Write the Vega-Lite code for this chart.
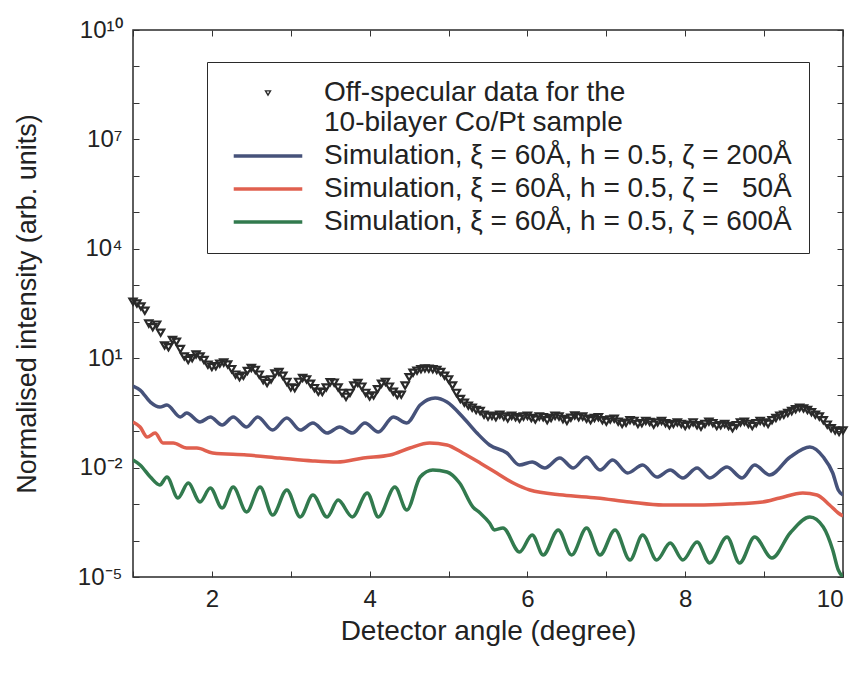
{
  "$schema": "https://vega.github.io/schema/vega-lite/v6.json",
  "width": 710,
  "height": 547,
  "autosize": {"type": "none"},
  "padding": {"left": 133, "top": 30, "right": 15, "bottom": 96},
  "background": "white",
  "config": {
    "view": {"stroke": "#2a2a2a", "strokeWidth": 1.5},
    "font": "Liberation Sans",
    "axis": {
      "domain": false, "grid": false, "tickColor": "#333", "tickSize": -6, "tickWidth": 1,
      "labelFont": "Liberation Sans", "labelFontSize": 24, "labelColor": "#222",
      "titleFont": "Liberation Sans", "titleFontWeight": "normal", "titleColor": "#222"
    },
    "legend": {
      "orient": "none", "legendX": 74, "legendY": 32,
      "strokeColor": "#2a2a2a", "fillColor": "white", "padding": 17,
      "labelFont": "Liberation Sans", "labelFontSize": 28, "labelColor": "#222", "labelLimit": 700,
      "labelOffset": 42, "symbolSize": 40, "symbolOffset": 30, "symbolStrokeWidth": 3.5, "rowPadding": 5,
      "symbolType": "stroke"
    }
  },
  "datasets": {
    "obs": [
      {"s":"data","x":1.00,"y":355},{"s":"data","x":1.05,"y":316},{"s":"data","x":1.10,"y":263},{"s":"data","x":1.15,"y":200},
      {"s":"data","x":1.20,"y":89.1},{"s":"data","x":1.25,"y":70.8},{"s":"data","x":1.30,"y":83.2},{"s":"data","x":1.35,"y":50.1},
      {"s":"data","x":1.40,"y":22.4},{"s":"data","x":1.45,"y":20.0},{"s":"data","x":1.50,"y":31.6},{"s":"data","x":1.55,"y":28.2},
      {"s":"data","x":1.60,"y":17.8},{"s":"data","x":1.65,"y":11.2},{"s":"data","x":1.70,"y":8.91},{"s":"data","x":1.75,"y":10.0},
      {"s":"data","x":1.80,"y":12.6},{"s":"data","x":1.85,"y":11.2},{"s":"data","x":1.90,"y":8.91},{"s":"data","x":1.95,"y":6.61},
      {"s":"data","x":2.00,"y":5.75},{"s":"data","x":2.05,"y":6.03},{"s":"data","x":2.10,"y":7.08},{"s":"data","x":2.15,"y":7.59},
      {"s":"data","x":2.20,"y":6.76},{"s":"data","x":2.25,"y":5.01},{"s":"data","x":2.30,"y":3.55},{"s":"data","x":2.35,"y":3.02},
      {"s":"data","x":2.40,"y":3.31},{"s":"data","x":2.45,"y":4.47},{"s":"data","x":2.50,"y":5.37},{"s":"data","x":2.55,"y":4.79},
      {"s":"data","x":2.60,"y":3.55},{"s":"data","x":2.65,"y":2.51},{"s":"data","x":2.70,"y":2.09},{"s":"data","x":2.75,"y":2.63},
      {"s":"data","x":2.80,"y":3.80},{"s":"data","x":2.85,"y":4.17},{"s":"data","x":2.90,"y":3.31},{"s":"data","x":2.95,"y":2.24},
      {"s":"data","x":3.00,"y":1.58},{"s":"data","x":3.05,"y":1.51},{"s":"data","x":3.10,"y":2.24},{"s":"data","x":3.15,"y":2.88},
      {"s":"data","x":3.20,"y":2.63},{"s":"data","x":3.25,"y":2.00},{"s":"data","x":3.30,"y":1.51},{"s":"data","x":3.35,"y":1.20},
      {"s":"data","x":3.40,"y":1.18},{"s":"data","x":3.45,"y":1.58},{"s":"data","x":3.50,"y":2.19},{"s":"data","x":3.55,"y":2.14},
      {"s":"data","x":3.60,"y":1.58},{"s":"data","x":3.65,"y":1.12},{"s":"data","x":3.70,"y":0.871},{"s":"data","x":3.75,"y":1.12},
      {"s":"data","x":3.80,"y":1.78},{"s":"data","x":3.85,"y":2.09},{"s":"data","x":3.90,"y":1.66},{"s":"data","x":3.95,"y":1.12},
      {"s":"data","x":4.00,"y":0.891},{"s":"data","x":4.05,"y":0.955},{"s":"data","x":4.10,"y":1.41},{"s":"data","x":4.15,"y":2.00},
      {"s":"data","x":4.20,"y":2.24},{"s":"data","x":4.25,"y":1.66},{"s":"data","x":4.30,"y":1.20},{"s":"data","x":4.35,"y":0.977},
      {"s":"data","x":4.40,"y":1.00},{"s":"data","x":4.45,"y":1.78},{"s":"data","x":4.50,"y":3.02},{"s":"data","x":4.55,"y":3.98},
      {"s":"data","x":4.60,"y":4.57},{"s":"data","x":4.65,"y":5.01},{"s":"data","x":4.70,"y":5.25},{"s":"data","x":4.75,"y":5.13},
      {"s":"data","x":4.80,"y":5.01},{"s":"data","x":4.85,"y":4.79},{"s":"data","x":4.90,"y":4.17},{"s":"data","x":4.95,"y":3.31},
      {"s":"data","x":5.00,"y":2.63},{"s":"data","x":5.05,"y":1.78},{"s":"data","x":5.10,"y":1.12},{"s":"data","x":5.15,"y":0.759},
      {"s":"data","x":5.20,"y":0.603},{"s":"data","x":5.25,"y":0.501},{"s":"data","x":5.30,"y":0.437},{"s":"data","x":5.35,"y":0.380},
      {"s":"data","x":5.40,"y":0.355},{"s":"data","x":5.45,"y":0.282},{"s":"data","x":5.50,"y":0.251},{"s":"data","x":5.55,"y":0.263},
      {"s":"data","x":5.60,"y":0.240},{"s":"data","x":5.65,"y":0.282},{"s":"data","x":5.70,"y":0.251},{"s":"data","x":5.75,"y":0.224},
      {"s":"data","x":5.80,"y":0.263},{"s":"data","x":5.85,"y":0.240},{"s":"data","x":5.90,"y":0.219},{"s":"data","x":5.95,"y":0.251},
      {"s":"data","x":6.00,"y":0.263},{"s":"data","x":6.05,"y":0.229},{"s":"data","x":6.10,"y":0.209},{"s":"data","x":6.15,"y":0.251},
      {"s":"data","x":6.20,"y":0.240},{"s":"data","x":6.25,"y":0.200},{"s":"data","x":6.30,"y":0.229},{"s":"data","x":6.35,"y":0.263},
      {"s":"data","x":6.40,"y":0.251},{"s":"data","x":6.45,"y":0.214},{"s":"data","x":6.50,"y":0.191},{"s":"data","x":6.55,"y":0.234},
      {"s":"data","x":6.60,"y":0.269},{"s":"data","x":6.65,"y":0.240},{"s":"data","x":6.70,"y":0.251},{"s":"data","x":6.75,"y":0.219},
      {"s":"data","x":6.80,"y":0.200},{"s":"data","x":6.85,"y":0.229},{"s":"data","x":6.90,"y":0.240},{"s":"data","x":6.95,"y":0.200},
      {"s":"data","x":7.00,"y":0.182},{"s":"data","x":7.05,"y":0.209},{"s":"data","x":7.10,"y":0.219},{"s":"data","x":7.15,"y":0.182},
      {"s":"data","x":7.20,"y":0.158},{"s":"data","x":7.25,"y":0.170},{"s":"data","x":7.30,"y":0.200},{"s":"data","x":7.35,"y":0.191},
      {"s":"data","x":7.40,"y":0.158},{"s":"data","x":7.45,"y":0.166},{"s":"data","x":7.50,"y":0.191},{"s":"data","x":7.55,"y":0.178},
      {"s":"data","x":7.60,"y":0.151},{"s":"data","x":7.65,"y":0.174},{"s":"data","x":7.70,"y":0.191},{"s":"data","x":7.75,"y":0.166},
      {"s":"data","x":7.80,"y":0.145},{"s":"data","x":7.85,"y":0.158},{"s":"data","x":7.90,"y":0.174},{"s":"data","x":7.95,"y":0.158},
      {"s":"data","x":8.00,"y":0.138},{"s":"data","x":8.05,"y":0.151},{"s":"data","x":8.10,"y":0.174},{"s":"data","x":8.15,"y":0.145},
      {"s":"data","x":8.20,"y":0.132},{"s":"data","x":8.25,"y":0.158},{"s":"data","x":8.30,"y":0.182},{"s":"data","x":8.35,"y":0.166},
      {"s":"data","x":8.40,"y":0.138},{"s":"data","x":8.45,"y":0.145},{"s":"data","x":8.50,"y":0.158},{"s":"data","x":8.55,"y":0.138},
      {"s":"data","x":8.60,"y":0.120},{"s":"data","x":8.65,"y":0.145},{"s":"data","x":8.70,"y":0.174},{"s":"data","x":8.75,"y":0.182},
      {"s":"data","x":8.80,"y":0.158},{"s":"data","x":8.85,"y":0.138},{"s":"data","x":8.90,"y":0.166},{"s":"data","x":8.95,"y":0.191},
      {"s":"data","x":9.00,"y":0.174},{"s":"data","x":9.05,"y":0.158},{"s":"data","x":9.10,"y":0.200},{"s":"data","x":9.15,"y":0.229},
      {"s":"data","x":9.20,"y":0.263},{"s":"data","x":9.25,"y":0.282},{"s":"data","x":9.30,"y":0.316},{"s":"data","x":9.35,"y":0.355},
      {"s":"data","x":9.40,"y":0.398},{"s":"data","x":9.45,"y":0.437},{"s":"data","x":9.50,"y":0.417},{"s":"data","x":9.55,"y":0.380},
      {"s":"data","x":9.60,"y":0.331},{"s":"data","x":9.65,"y":0.282},{"s":"data","x":9.70,"y":0.251},{"s":"data","x":9.75,"y":0.200},
      {"s":"data","x":9.80,"y":0.151},{"s":"data","x":9.85,"y":0.120},{"s":"data","x":9.90,"y":0.105},{"s":"data","x":9.95,"y":0.0955},
      {"s":"data","x":10.00,"y":0.105}
    ],
    "sim": [
      {"s":"z200","x":1.00,"y":1.73},{"s":"z200","x":1.09,"y":1.34},{"s":"z200","x":1.22,"y":0.628},{"s":"z200","x":1.34,"y":0.458},
      {"s":"z200","x":1.43,"y":0.520},{"s":"z200","x":1.60,"y":0.244},{"s":"z200","x":1.68,"y":0.314},{"s":"z200","x":1.85,"y":0.178},
      {"s":"z200","x":1.98,"y":0.244},{"s":"z200","x":2.13,"y":0.147},{"s":"z200","x":2.27,"y":0.244},{"s":"z200","x":2.44,"y":0.130},
      {"s":"z200","x":2.58,"y":0.244},{"s":"z200","x":2.77,"y":0.107},{"s":"z200","x":2.95,"y":0.229},{"s":"z200","x":3.12,"y":0.107},
      {"s":"z200","x":3.28,"y":0.167},{"s":"z200","x":3.46,"y":0.0887},{"s":"z200","x":3.62,"y":0.130},{"s":"z200","x":3.78,"y":0.0887},
      {"s":"z200","x":3.94,"y":0.167},{"s":"z200","x":4.11,"y":0.0946},{"s":"z200","x":4.30,"y":0.244},{"s":"z200","x":4.47,"y":0.167},
      {"s":"z200","x":4.64,"y":0.520},{"s":"z200","x":4.83,"y":0.809},{"s":"z200","x":4.98,"y":0.628},{"s":"z200","x":5.18,"y":0.244},
      {"s":"z200","x":5.36,"y":0.0887},{"s":"z200","x":5.52,"y":0.0416},{"s":"z200","x":5.74,"y":0.0251},{"s":"z200","x":5.90,"y":0.0118},
      {"s":"z200","x":6.06,"y":0.0142},{"s":"z200","x":6.22,"y":0.00975},{"s":"z200","x":6.41,"y":0.0183},{"s":"z200","x":6.58,"y":0.00975},
      {"s":"z200","x":6.75,"y":0.0195},{"s":"z200","x":6.92,"y":0.00859},{"s":"z200","x":7.08,"y":0.0161},{"s":"z200","x":7.27,"y":0.00711},
      {"s":"z200","x":7.46,"y":0.0118},{"s":"z200","x":7.64,"y":0.00552},{"s":"z200","x":7.81,"y":0.00859},{"s":"z200","x":7.97,"y":0.00519},
      {"s":"z200","x":8.15,"y":0.00975},{"s":"z200","x":8.31,"y":0.00519},{"s":"z200","x":8.53,"y":0.0104},{"s":"z200","x":8.72,"y":0.00519},
      {"s":"z200","x":8.88,"y":0.0118},{"s":"z200","x":9.07,"y":0.00627},{"s":"z200","x":9.33,"y":0.0195},{"s":"z200","x":9.58,"y":0.0367},
      {"s":"z200","x":9.75,"y":0.0195},{"s":"z200","x":9.87,"y":0.00711},{"s":"z200","x":9.94,"y":0.00243},{"s":"z200","x":10.00,"y":0.00177},

      {"s":"z50","x":1.00,"y":0.178},{"s":"z50","x":1.09,"y":0.130},{"s":"z50","x":1.18,"y":0.069},{"s":"z50","x":1.28,"y":0.0887},
      {"s":"z50","x":1.38,"y":0.0472},{"s":"z50","x":1.51,"y":0.0472},{"s":"z50","x":1.68,"y":0.0344},{"s":"z50","x":1.81,"y":0.0344},
      {"s":"z50","x":2.01,"y":0.0251},{"s":"z50","x":2.44,"y":0.0221},{"s":"z50","x":2.86,"y":0.0183},{"s":"z50","x":3.28,"y":0.0152},
      {"s":"z50","x":3.59,"y":0.0142},{"s":"z50","x":3.92,"y":0.0183},{"s":"z50","x":4.26,"y":0.0221},{"s":"z50","x":4.51,"y":0.0344},
      {"s":"z50","x":4.76,"y":0.0472},{"s":"z50","x":4.98,"y":0.0416},{"s":"z50","x":5.18,"y":0.0251},{"s":"z50","x":5.40,"y":0.0134},
      {"s":"z50","x":5.61,"y":0.00711},{"s":"z50","x":5.82,"y":0.00378},{"s":"z50","x":6.03,"y":0.00243},{"s":"z50","x":6.45,"y":0.00177},
      {"s":"z50","x":6.88,"y":0.00147},{"s":"z50","x":7.30,"y":0.00114},{"s":"z50","x":7.72,"y":0.000942},{"s":"z50","x":8.15,"y":0.000942},
      {"s":"z50","x":8.57,"y":0.00100},{"s":"z50","x":8.98,"y":0.00114},{"s":"z50","x":9.20,"y":0.00147},{"s":"z50","x":9.49,"y":0.00201},
      {"s":"z50","x":9.67,"y":0.00177},{"s":"z50","x":9.83,"y":0.000942},{"s":"z50","x":9.94,"y":0.000569},{"s":"z50","x":10.00,"y":0.000471},

      {"s":"z600","x":1.00,"y":0.0161},{"s":"z600","x":1.09,"y":0.0118},{"s":"z600","x":1.22,"y":0.00552},{"s":"z600","x":1.34,"y":0.00333},
      {"s":"z600","x":1.43,"y":0.00552},{"s":"z600","x":1.57,"y":0.00147},{"s":"z600","x":1.70,"y":0.00378},{"s":"z600","x":1.85,"y":0.00114},
      {"s":"z600","x":1.98,"y":0.00275},{"s":"z600","x":2.13,"y":0.00078},{"s":"z600","x":2.27,"y":0.00294},{"s":"z600","x":2.44,"y":0.000605},
      {"s":"z600","x":2.61,"y":0.00294},{"s":"z600","x":2.77,"y":0.000501},{"s":"z600","x":2.95,"y":0.00243},{"s":"z600","x":3.12,"y":0.000442},
      {"s":"z600","x":3.28,"y":0.00177},{"s":"z600","x":3.46,"y":0.000442},{"s":"z600","x":3.60,"y":0.00129},{"s":"z600","x":3.78,"y":0.000442},
      {"s":"z600","x":3.97,"y":0.00201},{"s":"z600","x":4.11,"y":0.000442},{"s":"z600","x":4.32,"y":0.00294},{"s":"z600","x":4.47,"y":0.000687},
      {"s":"z600","x":4.64,"y":0.00552},{"s":"z600","x":4.80,"y":0.00859},{"s":"z600","x":4.98,"y":0.00757},{"s":"z600","x":5.14,"y":0.00378},
      {"s":"z600","x":5.31,"y":0.00083},{"s":"z600","x":5.40,"y":0.000569},{"s":"z600","x":5.52,"y":0.000303},{"s":"z600","x":5.58,"y":0.000195},
      {"s":"z600","x":5.69,"y":0.000221},{"s":"z600","x":5.90,"y":0.0000485},{"s":"z600","x":6.06,"y":0.000142},{"s":"z600","x":6.20,"y":0.0000401},
      {"s":"z600","x":6.39,"y":0.000195},{"s":"z600","x":6.56,"y":0.0000401},{"s":"z600","x":6.75,"y":0.000221},{"s":"z600","x":6.92,"y":0.0000401},
      {"s":"z600","x":7.11,"y":0.000195},{"s":"z600","x":7.30,"y":0.0000292},{"s":"z600","x":7.46,"y":0.000142},{"s":"z600","x":7.64,"y":0.0000292},
      {"s":"z600","x":7.81,"y":0.0000855},{"s":"z600","x":7.97,"y":0.0000292},{"s":"z600","x":8.15,"y":0.0000912},{"s":"z600","x":8.31,"y":0.0000242},
      {"s":"z600","x":8.53,"y":0.000125},{"s":"z600","x":8.69,"y":0.0000242},{"s":"z600","x":8.88,"y":0.000125},{"s":"z600","x":9.10,"y":0.0000332},
      {"s":"z600","x":9.33,"y":0.000161},{"s":"z600","x":9.58,"y":0.000442},{"s":"z600","x":9.75,"y":0.000235},{"s":"z600","x":9.87,"y":0.000055},
      {"s":"z600","x":9.94,"y":0.0000156},{"s":"z600","x":10.00,"y":0.00001}
    ]
  },
  "layer": [
    {
      "data": {"name": "sim"},
      "mark": {"type": "line", "interpolate": "monotone", "strokeWidth": 3.5, "clip": true},
      "encoding": {
        "x": {"field": "x", "type": "quantitative", "scale": {"domain": [1, 10], "nice": false, "zero": false},
          "axis": {"orient": "top", "title": null, "labels": false, "values": [1,2,3,4,5,6,7,8,9,10]}},
        "y": {"field": "y", "type": "quantitative", "scale": {"type": "log", "domain": [0.00001, 10000000000], "nice": false},
          "axis": {"orient": "right", "title": null, "labels": false, "values": [0.00001,0.0001,0.001,0.01,0.1,1,10,100,1000,10000,100000,1000000,10000000,100000000,1000000000,10000000000]}},
        "color": {"field": "s", "type": "nominal",
          "scale": {"domain": ["data", "z200", "z50", "z600"], "range": ["#2a2a2a", "#46527a", "#e0604f", "#327a4e"]},
          "legend": {
            "title": null,
            "labelExpr": "datum.value === 'data' ? ['Off-specular data for the', '10-bilayer Co/Pt sample'] : datum.value === 'z200' ? 'Simulation, ξ = 60Å, h = 0.5, ζ = 200Å' : datum.value === 'z50' ? 'Simulation, ξ = 60Å, h = 0.5, ζ = \u200750Å' : 'Simulation, ξ = 60Å, h = 0.5, ζ = 600Å'",
            "encode": {"symbols": {"update": {
              "shape": {"signal": "datum.value === 'data' ? 'triangle-down' : 'stroke'"},
              "size": {"signal": "datum.value === 'data' ? 25 : 4700"},
              "strokeWidth": {"signal": "datum.value === 'data' ? 1.4 : 3.5"},
              "fill": {"value": "transparent"}
            }}}
          }},
        "order": {"field": "x", "type": "quantitative"}
      }
    },
    {
      "data": {"name": "obs"},
      "mark": {"type": "point", "shape": "triangle-down", "filled": false, "strokeWidth": 2.2, "size": 52, "opacity": 1},
      "encoding": {
        "x": {"field": "x", "type": "quantitative",
          "axis": {"orient": "bottom", "title": "Detector angle (degree)", "titleFontSize": 28, "values": [1,2,3,4,5,6,7,8,9,10],
            "labelExpr": "datum.value % 2 === 0 ? datum.label : ''", "labelPadding": 16, "titlePadding": 6}},
        "y": {"field": "y", "type": "quantitative",
          "axis": {"orient": "left", "title": "Normalised intensity (arb. units)", "titleFontSize": 27,
            "values": [0.00001,0.0001,0.001,0.01,0.1,1,10,100,1000,10000,100000,1000000,10000000,100000000,1000000000,10000000000],
            "labelExpr": "datum.value === 0.00001 ? '10⁻⁵' : datum.value === 0.01 ? '10⁻²' : datum.value === 10 ? '10¹' : datum.value === 10000 ? '10⁴' : datum.value === 10000000 ? '10⁷' : datum.value === 10000000000 ? '10¹⁰' : ''",
            "labelPadding": 17, "titlePadding": 36}},
        "color": {"field": "s", "type": "nominal"}
      }
    }
  ],
  "resolve": {"axis": {"x": "independent", "y": "independent"}}
}
